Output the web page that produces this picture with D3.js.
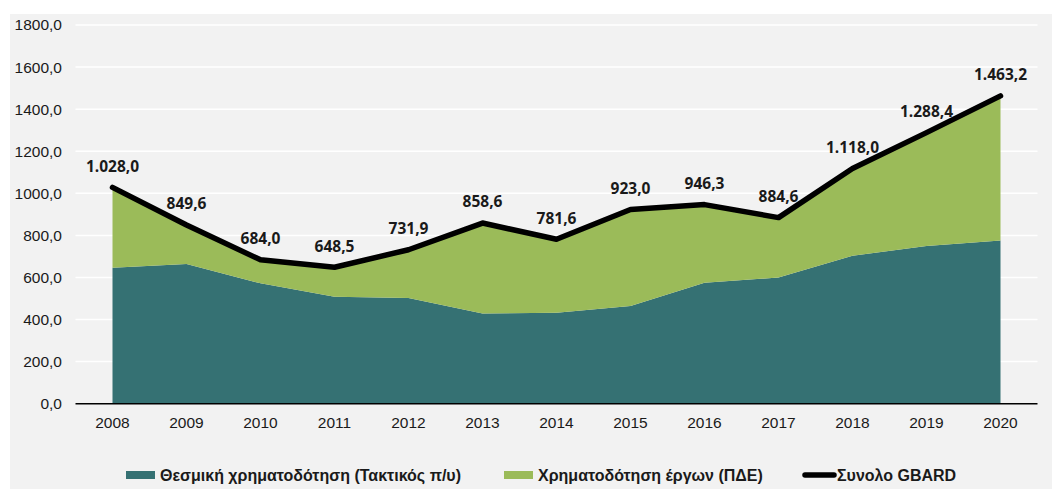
<!DOCTYPE html>
<html>
<head>
<meta charset="utf-8">
<script src="https://d3js.org/d3.v7.min.js"></script>
<style>
  body { margin: 0; background: #fff; }
  svg { display: block; }
</style>
</head>
<body>
<svg width="1052" height="489"></svg>
<script>
// data
const years = ["2008", "2009", "2010", "2011", "2012", "2013", "2014", "2015", "2016", "2017", "2018", "2019", "2020"];
const institutional = [646, 664, 572, 508, 502, 429, 432, 464, 575, 600, 703, 750, 776];
const projects = [382, 185.6, 112, 140.5, 229.9, 429.6, 349.6, 459, 371.3, 284.6, 415, 538.4, 687.2];
const totalGbard = [1028.0, 849.6, 684.0, 648.5, 731.9, 858.6, 781.6, 923.0, 946.3, 884.6, 1118.0, 1288.4, 1463.2];
const yTicks = [0, 200, 400, 600, 800, 1000, 1200, 1400, 1600, 1800];
const seriesNames = ["Θεσμική χρηματοδότηση (Τακτικός π/υ)", "Χρηματοδότηση έργων (ΠΔΕ)", "Συνολο GBARD"];

const colors = { inst: "#357173", proj: "#9bbb59", total: "#000000" };

const svg = d3.select("svg");

// background panel
svg.append("rect")
    .attr("x", 10).attr("y", 14)
    .attr("width", 1042).attr("height", 475)
    .attr("fill", "#f2f2f2");

const margin = { left: 75.5, right: 1037.5, top: 25, bottom: 403.7 };

const x = d3.scaleBand().domain(years).range([margin.left, margin.right]);
const cx = (d) => x(d) + x.bandwidth() / 2;
const y = d3.scaleLinear().domain([0, 1800]).range([margin.bottom, margin.top]);

// gridlines
svg.append("g")
    .selectAll("line")
    .data(yTicks.filter((t) => t > 0))
    .join("line")
    .attr("x1", margin.left).attr("x2", margin.right)
    .attr("y1", (d) => y(d)).attr("y2", (d) => y(d))
    .attr("stroke", "#ffffff")
    .attr("stroke-width", 1.5);

// y labels
const fmt = (v) => d3.format(".1f")(v).replace(".", ",");
svg.append("g")
    .selectAll("text")
    .data(yTicks)
    .join("text")
    .attr("x", 62)
    .attr("y", (d) => y(d))
    .attr("dy", "0.35em")
    .attr("text-anchor", "end")
    .attr("font-family", "Liberation Sans, Arial, sans-serif")
    .attr("font-size", 15.5)
    .attr("fill", "#1a1a1a")
    .text(fmt);

// stacked areas
const rows = years.map((yr, i) => ({ year: yr, inst: institutional[i], proj: projects[i] }));
const stack = d3.stack().keys(["inst", "proj"])(rows);
const area = d3.area()
    .x((d) => cx(d.data.year))
    .y0((d) => y(d[0]))
    .y1((d) => y(d[1]));

svg.append("g")
    .selectAll("path")
    .data(stack)
    .join("path")
    .attr("fill", (d) => colors[d.key])
    .attr("d", area);

// x axis line
svg.append("line")
    .attr("x1", margin.left).attr("x2", margin.right)
    .attr("y1", y(0)).attr("y2", y(0))
    .attr("stroke", "#000").attr("stroke-width", 1.5);

// x labels
svg.append("g")
    .selectAll("text")
    .data(years)
    .join("text")
    .attr("x", (d) => cx(d))
    .attr("y", 423)
    .attr("dy", "0.35em")
    .attr("text-anchor", "middle")
    .attr("font-family", "Liberation Sans, Arial, sans-serif")
    .attr("font-size", 15.5)
    .attr("fill", "#1a1a1a")
    .text((d) => d);

// total line
const line = d3.line()
    .x((d, i) => cx(years[i]))
    .y((d) => y(d));

svg.append("path")
    .datum(totalGbard)
    .attr("fill", "none")
    .attr("stroke", colors.total)
    .attr("stroke-width", 5.5)
    .attr("stroke-linejoin", "round")
    .attr("stroke-linecap", "round")
    .attr("d", line);

// data labels
const fmtLabel = (v) => {
    const s = d3.format(",.1f")(v);
    return s.replace(/,/g, "#").replace(".", ",").replace(/#/g, ".");
};
svg.append("g")
    .selectAll("text")
    .data(totalGbard)
    .join("text")
    .attr("x", (d, i) => cx(years[i]))
    .attr("y", (d) => y(d) - 21)
    .attr("dy", "0.35em")
    .attr("text-anchor", "middle")
    .attr("font-family", "Open Sans, sans-serif")
    .attr("font-weight", "bold")
    .attr("font-size", 15.5)
    .attr("fill", "#1a1a1a")
    .text(fmtLabel);

// legend
const legend = svg.append("g").attr("font-family", "Liberation Sans, Arial, sans-serif")
    .attr("font-size", 16).attr("font-weight", "bold").attr("fill", "#1a1a1a");

const lg = [
    { name: seriesNames[0], x: 126, color: colors.inst, type: "rect" },
    { name: seriesNames[1], x: 504, color: colors.proj, type: "rect" },
    { name: seriesNames[2], x: 802, color: colors.total, type: "line" }
];
lg.forEach((d) => {
    if (d.type === "rect") {
        legend.append("rect")
            .attr("x", d.x).attr("y", 471)
            .attr("width", 29).attr("height", 8)
            .attr("fill", d.color);
        legend.append("text")
            .attr("x", d.x + 34).attr("y", 475)
            .attr("dy", "0.35em")
            .text(d.name);
    } else {
        legend.append("line")
            .attr("x1", d.x + 3).attr("x2", d.x + 32)
            .attr("y1", 475).attr("y2", 475)
            .attr("stroke", d.color).attr("stroke-width", 5.5)
            .attr("stroke-linecap", "round");
        legend.append("text")
            .attr("x", d.x + 35).attr("y", 475)
            .attr("dy", "0.35em")
            .text(d.name);
    }
});
</script>
</body>
</html>
